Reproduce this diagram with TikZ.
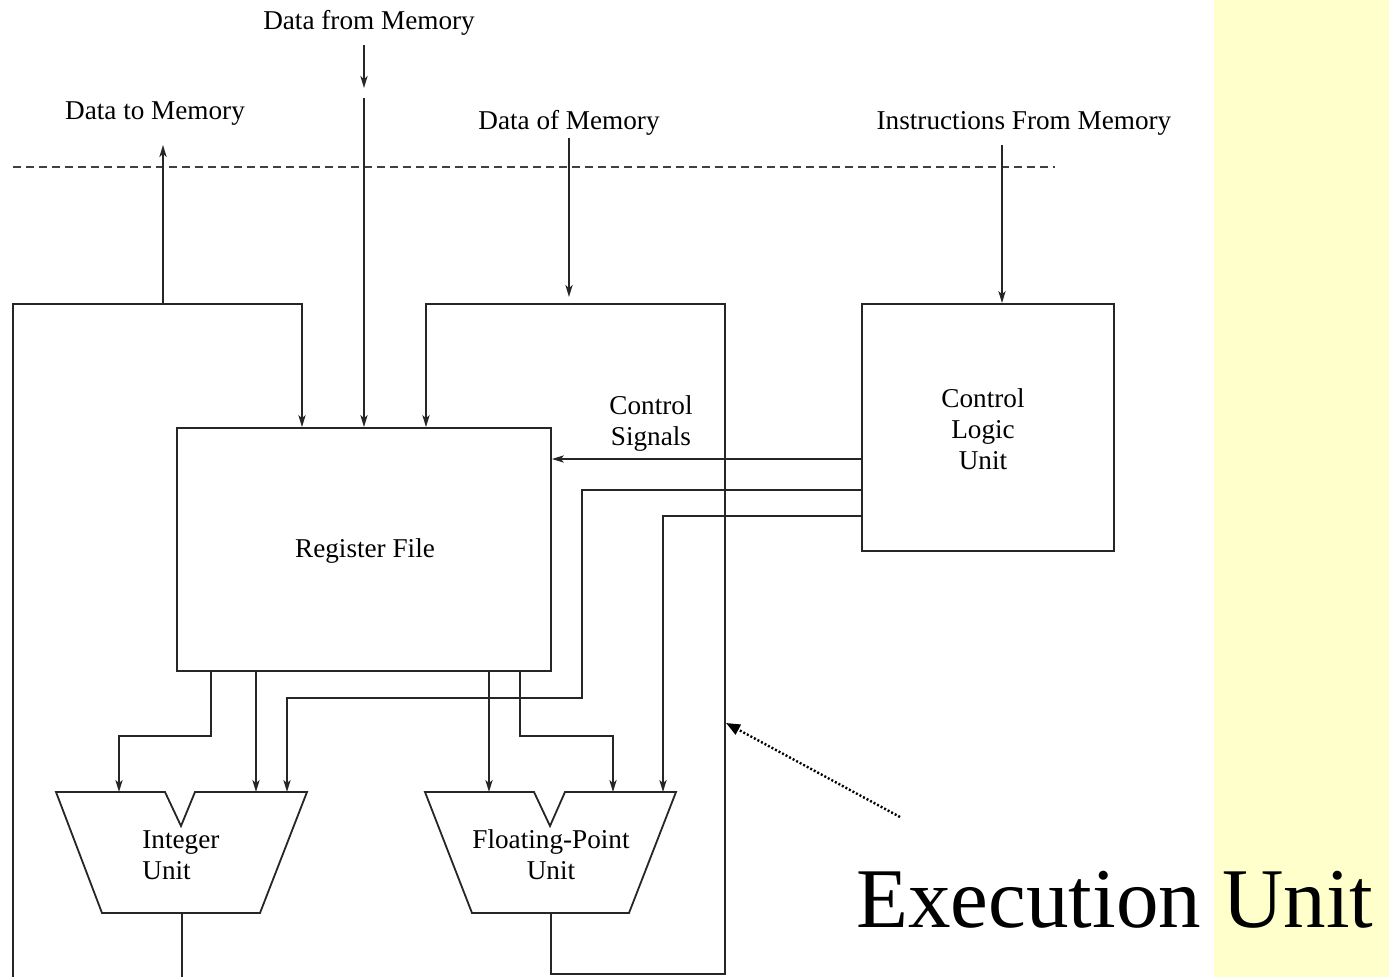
\documentclass[tikz,border=0pt]{standalone}
\usepackage{fontspec}
\setmainfont{Liberation Serif}
\usetikzlibrary{arrows.meta,calc}
\definecolor{band}{HTML}{FFFFCC}
\begin{document}
\begin{tikzpicture}[x=0.5pt,y=-0.5pt,
  wire/.style={line width=0.9pt, draw=black!85},
  arr/.style={wire,-{Stealth[length=6pt,width=3.6pt,inset=1.6pt]}},
  lbl/.style={font=\fontsize{13.6}{15.4}\selectfont, inner sep=0pt, align=center},
  blk/.style={draw=black!85, line width=0.9pt, inner sep=0pt},
  alu/.style={wire, fill=white},
  memline/.style={draw=black!75, line width=0.6pt, dash pattern=on 4pt off 2.5pt},
  pointer/.style={line width=1.2pt, dash pattern=on 1pt off 1pt, -{Triangle[length=7pt,width=5.5pt]}},
]
% page frame and side band
\fill[white] (0,0) rectangle (1389,977);
\fill[band] (1214,0) rectangle (1389,977);
\useasboundingbox (0,0) rectangle (1389,977);

% memory boundary
\coordinate (mbL) at (13,167);
\coordinate (mbR) at (1055,167);
\draw[memline] (mbL) -- (mbR);

% blocks
\node[blk, minimum width=187pt, minimum height=121.5pt] (rf) at (364,549.5) {};
\node[lbl] (rftext) at (365,551) {Register File};
\node[blk, minimum width=126pt, minimum height=123.5pt] (clu) at (988,427.5) {};
\node[lbl] (clutext) at (983,429) {Control\\Logic\\Unit};

% memory labels
\node[lbl] (dtm) at (155,114) {Data to Memory};
\node[lbl] (dfm) at (369,23) {Data from Memory};
\node[lbl] (dom) at (569,123) {Data of Memory};
\node[lbl] (ifm) at (1024,123) {Instructions From Memory};
\node[lbl] (cs) at (651,423.5) {Control\\Signals};

% functional units
\coordinate (iuA) at (56,792);  \coordinate (iuB) at (307,792);
\coordinate (iuC) at (260,913); \coordinate (iuD) at (102,913);
\draw[alu] (iuA) -- (165,792) -- (181,826) -- (195,792) -- (iuB) -- (iuC) -- (iuD) -- cycle;
\node[lbl, align=left, anchor=west] (iu) at (142,855) {Integer\\Unit};

\coordinate (fpA) at (425,792); \coordinate (fpB) at (676,792);
\coordinate (fpC) at (629,913); \coordinate (fpD) at (472,913);
\draw[alu] (fpA) -- (534,792) -- (550,826) -- (565,792) -- (fpB) -- (fpC) -- (fpD) -- cycle;
\node[lbl] (fpu) at (551,855) {Floating-Point\\Unit};

% ports
\coordinate (iuOut) at (182,913);
\coordinate (fpOut) at (551,913);
\coordinate (iuIn1) at (119,792);
\coordinate (iuIn2) at (256,792);
\coordinate (iuIn3) at (287,792);
\coordinate (fpIn1) at (489,792);
\coordinate (fpIn2) at (613,792);
\coordinate (fpIn3) at (663,792);

% integer result loop back to the register file (its bottom run lies below the edge)
\coordinate (lbot) at (13,980);
\coordinate (ltop) at (13,304);
\coordinate (rin1) at (302,304);
\draw[arr] (iuOut) |- (lbot) -- (ltop) -- (rin1) -- (rin1 |- rf.north);
\coordinate (dtmTap) at (163,304);
\coordinate (dtmTip) at (163,145);
\draw[arr] (dtmTap) -- (dtmTip);

% floating-point result loop back to the register file
\coordinate (rbot) at (725,974);
\coordinate (rtop) at (725,304);
\coordinate (rin3) at (426,304);
\draw[arr] (fpOut) |- (rbot) -- (rtop) -- (rin3) -- (rin3 |- rf.north);

% data from memory
\coordinate (dfmA) at (364,45);
\coordinate (dfmB) at (364,88);
\coordinate (dfmC) at (364,98);
\draw[arr] (dfmA) -- (dfmB);
\draw[arr] (dfmC) -- (dfmC |- rf.north);

% data of memory
\coordinate (domA) at (569,138);
\coordinate (domB) at (569,297);
\draw[arr] (domA) -- (domB);

% instructions
\coordinate (ifmA) at (1002,145);
\draw[arr] (ifmA) -- (ifmA |- clu.north);

% control signals
\coordinate (c1) at (862,459);
\coordinate (c2) at (862,490);
\coordinate (c3) at (862,516);
\draw[arr] (c1) -- (c1 -| rf.east);
\draw[arr] (c2) -- (582,490) -- (582,698) -| (iuIn3);
\draw[arr] (c3) -| (fpIn3);

% register file outputs
\draw[arr] (rf.south -| 211,0) -- (211,736) -| (iuIn1);
\draw[arr] (rf.south -| iuIn2) -- (iuIn2);
\draw[arr] (rf.south -| fpIn1) -- (fpIn1);
\draw[arr] (rf.south -| 520,0) -- (520,736) -| (fpIn2);

% title and pointer
\node[font=\fontsize{42.5}{48}\selectfont, inner sep=0pt, anchor=base west] (eu) at (856,928) {Execution Unit};
\coordinate (euTail) at (900,817);
\coordinate (euTip) at (726,723);
\draw[pointer] (euTail) -- (euTip);
\end{tikzpicture}
\end{document}
